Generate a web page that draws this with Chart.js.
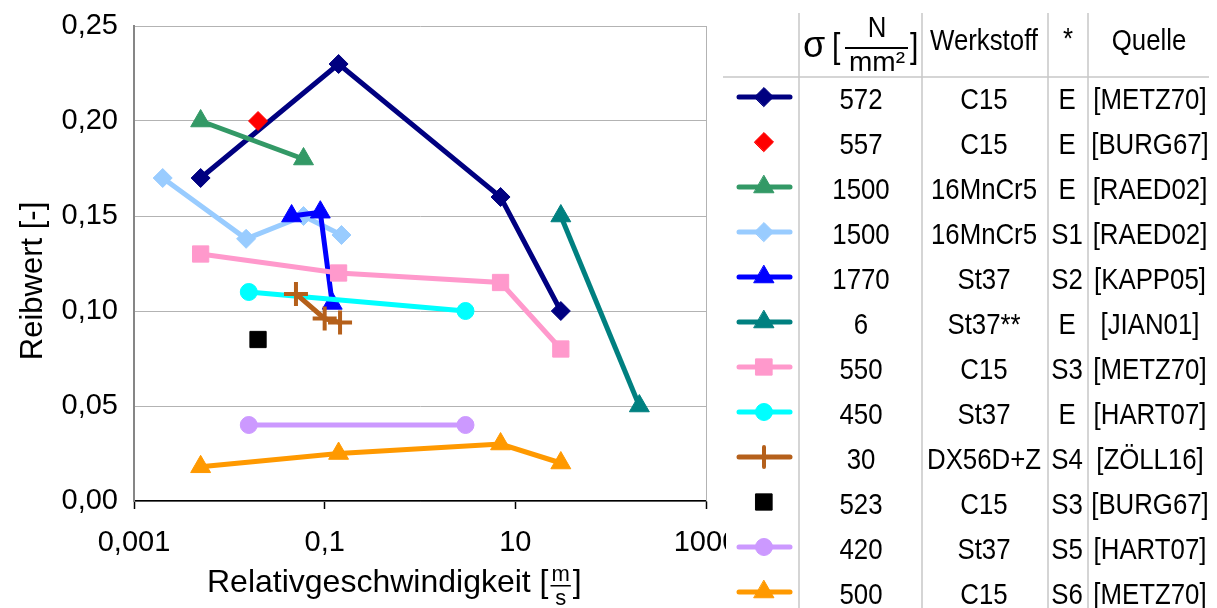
<!DOCTYPE html>
<html>
<head>
<meta charset="utf-8">
<script src="https://cdn.jsdelivr.net/npm/chart.js@4"></script>
<style>
  body { margin: 0; background: #fff; }
  canvas { display: block; }
</style>
</head>
<body>
<canvas id="reibChart" width="1217" height="608"></canvas>
<script>
// Reibwert ueber Relativgeschwindigkeit

// Tabelle rechts
const sigma = ['572', '557', '1500', '1500', '1770', '6', '550', '450', '30', '523', '420', '500'];
const werkstoff = ['C15', 'C15', '16MnCr5', '16MnCr5', 'St37', 'St37**', 'C15', 'St37', 'DX56D+Z', 'C15', 'St37', 'C15'];
const stern = ['E', 'E', 'E', 'S1', 'S2', 'E', 'S3', 'E', 'S4', 'S3', 'S5', 'S6'];
const quelle = ['[METZ70]', '[BURG67]', '[RAED02]', '[RAED02]', '[KAPP05]', '[JIAN01]', '[METZ70]', '[HART07]', '[ZÖLL16]', '[BURG67]', '[HART07]', '[METZ70]'];

// Geschwindigkeit [m/s] und Reibwert je Reihe
const v572 = [0.005, 0.14, 7, 30];
const mu572 = [0.17, 0.23, 0.16, 0.10];
const v557 = [0.02];
const mu557 = [0.20];
const v1500E = [0.005, 0.06];
const mu1500E = [0.20, 0.18];
const v1500S1 = [0.002, 0.015, 0.06, 0.15];
const mu1500S1 = [0.17, 0.138, 0.15, 0.14];
const v1770 = [0.045, 0.09, 0.12];
const mu1770 = [0.15, 0.152, 0.104];
const v6 = [30, 200];
const mu6 = [0.15, 0.05];
const v550 = [0.005, 0.14, 7, 30];
const mu550 = [0.13, 0.12, 0.115, 0.08];
const v450 = [0.016, 3];
const mu450 = [0.11, 0.10];
const v30 = [0.05, 0.1, 0.145];
const mu30 = [0.109, 0.096, 0.094];
const v523 = [0.02];
const mu523 = [0.085];
const v420 = [0.016, 3];
const mu420 = [0.04, 0.04];
const v500 = [0.005, 0.14, 7, 30];
const mu500 = [0.018, 0.025, 0.03, 0.02];

// Achsen
const xTicks = [0.001, 0.1, 10, 1000];
const xTickLabels = ['0,001', '0,1', '10', '1000'];

const reihen = [
  [v572, mu572], [v557, mu557], [v1500E, mu1500E], [v1500S1, mu1500S1],
  [v1770, mu1770], [v6, mu6], [v550, mu550], [v450, mu450],
  [v30, mu30], [v523, mu523], [v420, mu420], [v500, mu500]
];

const farben = ['#000080', '#FF0000', '#339966', '#99CCFF', '#0000FF', '#008080',
                '#FF99CC', '#00FFFF', '#B5601B', '#000000', '#CC99FF', '#FF9900'];
const symbole = ['rectRot', 'rectRot', 'triangle', 'rectRot', 'triangle', 'triangle',
                 'rect', 'circle', 'cross', 'rect', 'circle', 'triangle'];
const mitLinie = [true, false, true, true, true, true, true, true, true, false, true, true];
const radien = { rectRot: 9.5, triangle: 11.5, rect: 11.5, circle: 8.5, cross: 12 };

const schrift = 'Liberation Sans, Arial, sans-serif';

const datasets = reihen.map((r, i) => ({
  label: sigma[i] + ' ' + werkstoff[i] + ' ' + stern[i] + ' ' + quelle[i],
  data: r[0].map((v, k) => ({ x: v, y: r[1][k] })),
  showLine: mitLinie[i],
  borderColor: farben[i],
  backgroundColor: farben[i],
  borderWidth: 5,
  pointStyle: symbole[i],
  pointRadius: radien[symbole[i]],
  pointHoverRadius: radien[symbole[i]],
  pointBorderWidth: symbole[i] === 'cross' ? 4 : 1,
  order: reihen.length - i   // spaetere Reihen oben, wie in Excel
}));

// schmale Schrift gibt es nicht -> horizontal stauchen
function schmalText(ctx, t, x, y, sx) {
  ctx.save();
  ctx.translate(x, y);
  ctx.scale(sx || 0.86, 1);
  ctx.fillText(t, 0, 0);
  ctx.restore();
}

// Achsentitel selbst zeichnen (Bruch m/s geht sonst nicht)
const achsenTitel = {
  id: 'achsenTitel',
  afterDraw(chart) {
    const ctx = chart.ctx;
    const a = chart.chartArea;
    ctx.save();
    // rechter Rand der Zeichenflaeche
    ctx.strokeStyle = '#B3B3B3';
    ctx.lineWidth = 1;
    ctx.beginPath();
    ctx.moveTo(Math.round(a.right) + 0.5, a.top);
    ctx.lineTo(Math.round(a.right) + 0.5, a.bottom);
    ctx.stroke();

    ctx.fillStyle = '#000';
    // y-Titel
    ctx.save();
    ctx.translate(42, 281);
    ctx.rotate(-Math.PI / 2);
    ctx.font = '31px ' + schrift;
    ctx.textAlign = 'center';
    ctx.textBaseline = 'alphabetic';
    ctx.fillText('Reibwert [-]', 0, 0);
    ctx.restore();

    // x-Titel
    ctx.font = '32px ' + schrift;
    ctx.textAlign = 'left';
    ctx.textBaseline = 'alphabetic';
    let x = 207;
    const txt = 'Relativgeschwindigkeit [';
    ctx.fillText(txt, x, 592);
    x += ctx.measureText(txt).width + 2;
    ctx.font = '22px ' + schrift;
    const wm = ctx.measureText('m').width;
    ctx.textAlign = 'center';
    ctx.fillText('m', x + wm / 2 + 1, 581);
    ctx.fillText('s', x + wm / 2 + 1, 605);
    ctx.fillRect(x, 585, wm + 2, 1.5);
    ctx.textAlign = 'left';
    ctx.font = '32px ' + schrift;
    ctx.fillText(']', x + wm + 4, 592);
    ctx.restore();
  }
};

// Legendentabelle rechts
const tabelle = {
  id: 'tabelle',
  afterDraw(chart) {
    const ctx = chart.ctx;
    ctx.save();
    ctx.fillStyle = '#fff';
    ctx.fillRect(726, 0, chart.width - 726, chart.height);

    // Linien
    ctx.strokeStyle = '#C8C8C8';
    ctx.lineWidth = 1.5;
    ctx.beginPath();
    [799, 922, 1048, 1088].forEach(x => {
      ctx.moveTo(x, 13);
      ctx.lineTo(x, chart.height);
    });
    ctx.moveTo(723, 77);
    ctx.lineTo(1209, 77);
    ctx.stroke();

    // Kopf
    ctx.fillStyle = '#000';
    ctx.textBaseline = 'alphabetic';
    ctx.textAlign = 'left';
    ctx.font = '36px ' + schrift;
    ctx.fillText('σ', 803, 57);
    ctx.font = '35px ' + schrift;
    schmalText(ctx, '[', 832, 58);
    schmalText(ctx, ']', 910, 58);
    ctx.textAlign = 'center';
    ctx.font = '30px ' + schrift;
    schmalText(ctx, 'N', 877, 37);
    ctx.fillRect(845, 47, 63, 2);
    ctx.font = '28px ' + schrift;
    ctx.fillText('mm²', 877, 71);
    ctx.font = '30px ' + schrift;
    schmalText(ctx, 'Werkstoff', 984, 50);
    schmalText(ctx, '*', 1068, 48);
    schmalText(ctx, 'Quelle', 1149, 50);

    // Zeilen
    sigma.forEach((s, i) => {
      const yc = 97 + 45 * i;
      const ds = chart.data.datasets[i];
      ctx.strokeStyle = ds.borderColor;
      ctx.fillStyle = ds.backgroundColor;
      if (ds.showLine) {
        ctx.lineWidth = 5;
        ctx.lineCap = 'round';
        ctx.beginPath();
        ctx.moveTo(739, yc);
        ctx.lineTo(790, yc);
        ctx.stroke();
      }
      ctx.lineWidth = ds.pointBorderWidth;
      Chart.helpers.drawPoint(ctx, {
        pointStyle: ds.pointStyle,
        radius: ds.pointStyle === 'cross' ? 10 : ds.pointRadius,
        rotation: 0,
        borderWidth: ds.pointBorderWidth
      }, 764, yc);

      ctx.fillStyle = '#000';
      ctx.font = '30px ' + schrift;
      ctx.textAlign = 'center';
      const yb = yc + 11.5;
      schmalText(ctx, s, 861, yb);
      schmalText(ctx, werkstoff[i], 984, yb);
      schmalText(ctx, stern[i], 1067, yb);
      schmalText(ctx, quelle[i], 1150, yb);
    });
    ctx.restore();
  }
};

new Chart(document.getElementById('reibChart'), {
  type: 'scatter',
  data: { datasets },
  options: {
    responsive: false,
    animation: false,
    events: [],
    layout: { padding: { left: 0, right: 511, top: 26, bottom: 0 } },
    plugins: {
      legend: { display: false },
      tooltip: { enabled: false }
    },
    scales: {
      x: {
        type: 'logarithmic',
        min: 0.001,
        max: 1000,
        afterBuildTicks: s => { s.ticks = xTicks.map(v => ({ value: v })); },
        afterFit: s => { s.height = 107; },
        ticks: {
          autoSkip: false,
          maxRotation: 0,
          padding: 17,
          color: '#000',
          font: { family: schrift, size: 29 },
          callback: (v, i) => xTickLabels[i]
        },
        grid: {
          drawOnChartArea: false,
          drawTicks: true,
          tickLength: 8,
          tickColor: '#000',
          tickWidth: 1.5
        },
        border: { color: '#000', width: 1.5 }
      },
      y: {
        min: 0,
        max: 0.25,
        afterFit: s => { s.width = 134; s.paddingTop = 0; s.paddingBottom = 0; },
        ticks: {
          stepSize: 0.05,
          padding: 16,
          color: '#000',
          font: { family: schrift, size: 29 },
          callback: v => v.toFixed(2).replace('.', ',')
        },
        grid: { color: '#B3B3B3', lineWidth: 1, drawTicks: false },
        border: { color: '#868686', width: 2 }
      }
    }
  },
  plugins: [achsenTitel, tabelle]
});
</script>
</body>
</html>
